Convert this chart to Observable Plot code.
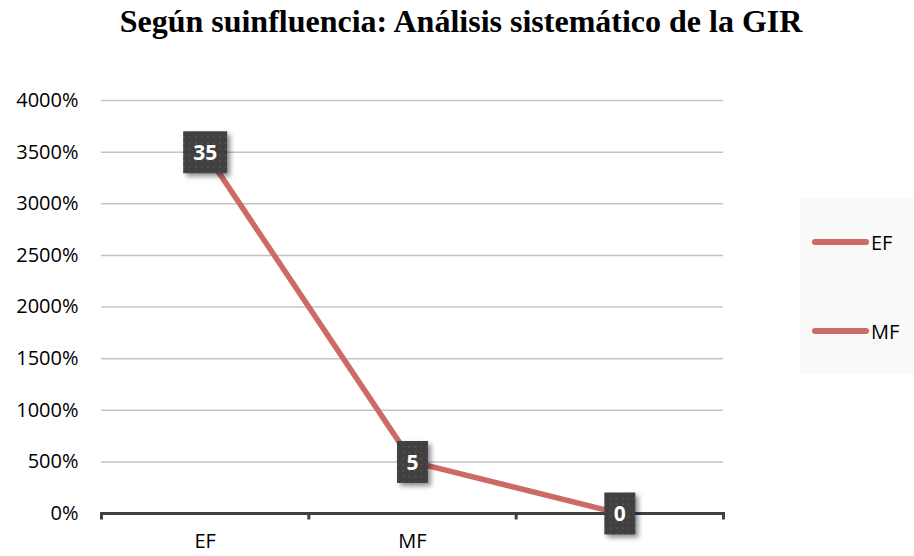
<!DOCTYPE html>
<html>
<head>
<meta charset="utf-8">
<script src="https://cdn.jsdelivr.net/npm/d3@7"></script>
<script src="https://cdn.jsdelivr.net/npm/@observablehq/plot@0.6"></script>
<style>
  html, body { margin: 0; padding: 0; background: #fff; }
  #wrap { position: relative; width: 914px; height: 556px; overflow: hidden; }
  #title { position: absolute; left: 4px; top: 1px; width: 914px; height: 40px; text-align: center;
    font-family: "Liberation Serif", "Times New Roman", serif; font-weight: bold; font-size: 32px;
    line-height: 40px; color: #000; white-space: nowrap; }
  #chart { position: absolute; left: 0; top: 60px; }
  #legend { position: absolute; left: 800px; top: 198px; width: 114px; height: 176px; background: #f9f9f9; }
  .lg-item { position: absolute; left: 12px; height: 20px; display: flex; align-items: center; }
  .lg-line { width: 57px; height: 6px; border-radius: 3px; }
  .lg-text { font-family: "Open Sans", sans-serif; font-size: 20px; color: #000; margin-left: 2px; }
  .boxes path { filter: drop-shadow(3px 3px 2.5px rgba(0,0,0,0.45)); }
</style>
</head>
<body>
<svg width="0" height="0" style="position:absolute">
  <defs>
    <pattern id="dots" width="6" height="6" patternUnits="userSpaceOnUse">
      <rect width="6" height="6" fill="#404040"></rect>
      <rect x="2" y="2" width="1.5" height="1.5" fill="#5c5c5c"></rect>
    </pattern>
  </defs>
</svg>
<div id="wrap">
  <div id="title">Según suinfluencia: Análisis sistemático de la GIR</div>
  <div id="chart"></div>
  <div id="legend"></div>
</div>
<script>
const categories = ["EF", "MF", ""];
const values = [35, 5, 0];
const valueLabels = ["35", "5", "0"];
const yTicks = [0, 5, 10, 15, 20, 25, 30, 35, 40];
const xEdges = [0, 1, 2, 3];
const legendItems = ["EF", "MF"];

const lineColor = "#cc6a66";

const data = categories.map((c, i) => ({cat: c, pos: i + 0.5, v: values[i], label: valueLabels[i]}));
const catData = categories.map((c, i) => ({cat: c, pos: i + 0.5}));

function boxSymbol(w, h) {
  return { draw(ctx) { ctx.moveTo(-w / 2, -h / 2); ctx.lineTo(w / 2, -h / 2); ctx.lineTo(w / 2, h / 2); ctx.lineTo(-w / 2, h / 2); ctx.closePath(); } };
}
const tickSymbol = { draw(ctx) { ctx.moveTo(0, -1.5); ctx.lineTo(0, 6); } };
const wideBox = boxSymbol(44, 42);
const narrowBox = boxSymbol(31, 42);

const chart = Plot.plot({
  width: 914,
  height: 496,
  marginLeft: 101,
  marginRight: 191,
  marginTop: 40,
  marginBottom: 43,
  style: { fontFamily: "'Open Sans', sans-serif", fontSize: "20px", color: "#000", background: "transparent" },
  x: { domain: [0, 3], axis: null },
  y: { domain: [0, 40], ticks: yTicks, tickFormat: d => `${d * 100}%`, tickSize: 0, tickPadding: 23, label: null },
  marks: [
    Plot.ruleY(yTicks.filter(d => d > 0), { stroke: "#c4c4c4", strokeWidth: 1.5 }),
    Plot.ruleY([0], { stroke: "#404040", strokeWidth: 3 }),
    Plot.dot(xEdges, { x: d => d, y: () => 0, symbol: tickSymbol, stroke: "#404040", strokeWidth: 3, fill: "none", r: 5 }),
    Plot.text(catData, { x: "pos", text: "cat", frameAnchor: "bottom", dy: 34, fill: "#000", fontSize: 20 }),
    Plot.line(data, { x: "pos", y: "v", stroke: lineColor, strokeWidth: 5.5 }),
    Plot.dot(data.filter(d => d.label.length > 1), { x: "pos", y: "v", symbol: wideBox, fill: "url(#dots)", stroke: "none", r: 5, className: "boxes" }),
    Plot.dot(data.filter(d => d.label.length <= 1), { x: "pos", y: "v", symbol: narrowBox, fill: "url(#dots)", stroke: "none", r: 5, className: "boxes" }),
    Plot.text(data, { x: "pos", y: "v", text: "label", fill: "#fff", fontWeight: "bold", fontSize: 21, dy: 1 })
  ]
});
document.getElementById("chart").appendChild(chart);

chart.querySelectorAll("g[aria-label='dot']").forEach((g, i) => { if (i > 0) g.classList.add("boxes"); });

const legend = document.getElementById("legend");
const legendY = [44, 133];
legendItems.forEach((name, i) => {
  const item = document.createElement("div");
  item.className = "lg-item";
  item.style.top = (legendY[i] - 10) + "px";
  item.innerHTML = `<div class="lg-line" style="background:${lineColor}"></div><span class="lg-text">${name}</span>`;
  legend.appendChild(item);
});
</script>
</body>
</html>
